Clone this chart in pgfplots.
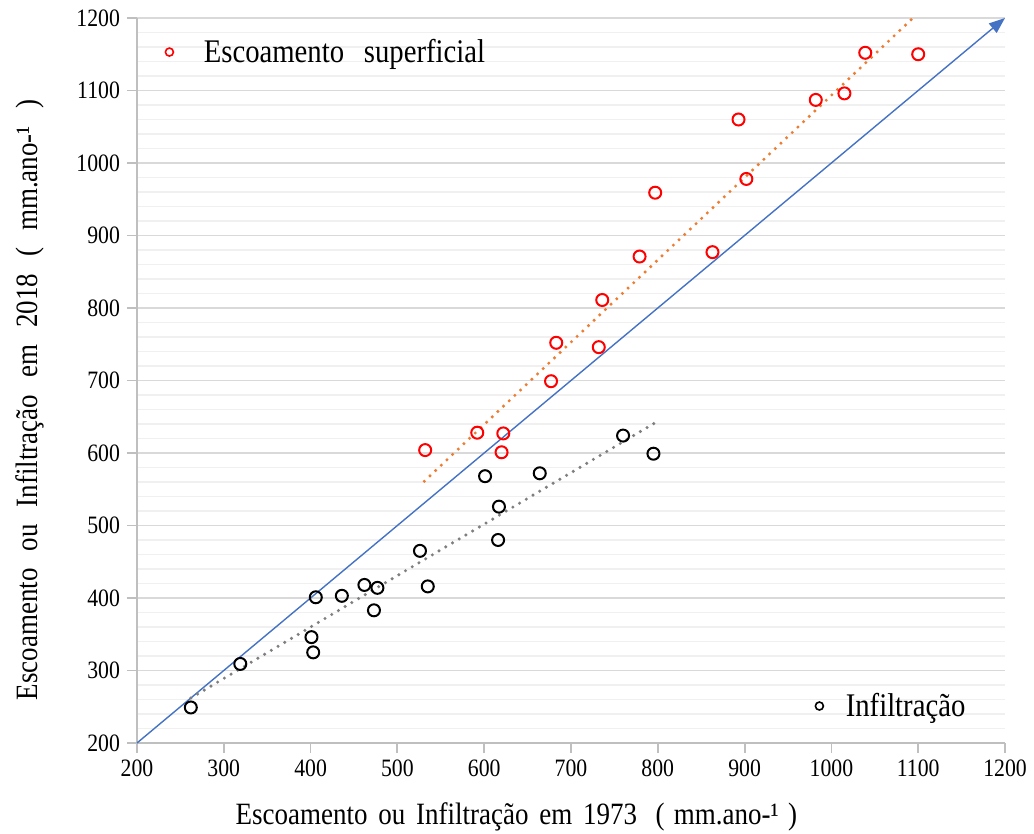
\documentclass[border=0pt]{standalone}
\usepackage{fontspec}
\setmainfont{Liberation Serif}[FakeStretch=0.87]
\usepackage{pgfplots}
\pgfplotsset{compat=1.18}
\usetikzlibrary{arrows.meta}
\definecolor{cGrid}{HTML}{D9D9D9}
\definecolor{cMinor}{HTML}{F0F0F0}
\definecolor{cAxis}{HTML}{BFBFBF}
\definecolor{cOne}{HTML}{4472C4}
\definecolor{cTrendR}{HTML}{ED7D31}
\definecolor{cTrendI}{HTML}{7F7F7F}

\newcommand{\ws}{\hspace{0.55em}}
\pgfplotsset{
  dotmark/.style={only marks, mark=o, mark size=3pt, mark options={line width=1pt}},
  legmark/.style={
    legend image code/.code={\draw[##1, mark size=2pt, line width=0.8pt] plot coordinates {(0pt,0pt)}; \path (-2.5pt,0pt) (#1,0pt);},
    legend style={draw=none, fill=none, inner sep=0pt, outer sep=0pt,
      nodes={inner sep=0pt}, font=\fontsize{16.5}{18}\selectfont},
  },
}

\begin{document}
\begin{tikzpicture}
\begin{axis}[
    name=main,
    width=434pt, height=362.5pt, scale only axis,
    xmin=200, xmax=1200, ymin=200, ymax=1200,
    xtick distance=100, ytick distance=100, minor y tick num=4,
    ymajorgrids, yminorgrids,
    major grid style={cGrid, line width=0.8pt},
    minor grid style={cMinor, line width=0.8pt},
    axis x line*=bottom, axis y line*=left,
    axis line style={cAxis, line width=0.9pt, -},
    tick style={cAxis, line width=0.9pt},
    tick align=outside, major tick length=5pt, minor tick length=0pt,
    ticklabel style={font=\fontsize{12.5}{14}\selectfont},
    /pgf/number format/assume math mode=true,
    /pgf/number format/1000 sep={},
    label style={font=\fontsize{15.5}{17}\selectfont, inner sep=0.5pt},
    xlabel={Escoamento\hspace{0.35em}ou\hspace{0.35em}Infiltração\hspace{0.35em}em\hspace{0.35em}1973\hspace{0.6em}(\hspace{0.3em}mm.ano-¹\hspace{0.3em})},
    ylabel={Escoamento\ws ou\ws Infiltração\ws em\ws 2018\ws (\ws mm.ano-¹\ws )},
    xlabel style={at={(axis description cs:0.437,-0.102)}, anchor=center},
    ylabel style={at={(axis description cs:-0.123,0.473)}, anchor=center},
    clip=false,
    legmark=17pt,
    legend style={at={(axis description cs:0.0369,0.953)}, anchor=west, xshift=-2.5pt},
]
\addplot[forget plot, cOne, line width=0.7pt, -{Triangle[length=8pt,width=6pt]}] coordinates {(200,200) (1200,1200)};
\addplot[forget plot, cTrendR, line width=1.7pt, dash pattern=on 0pt off 3.9pt, line cap=round] coordinates {(531,561) (1094,1200)};
\addplot[forget plot, cTrendI, line width=1.7pt, dash pattern=on 0pt off 3.9pt, line cap=round] coordinates {(262,262) (796,641)};

\addplot[forget plot, dotmark, black] coordinates {
 (262,249) (319,309) (406,401) (401,346) (403,325) (436,403) (462,418)
 (477,414) (473,383) (535,416) (526,465) (601,568) (617,526) (616,480)
 (664,572) (760,624) (795,599)
};
\addplot[forget plot, dotmark, red] coordinates {
 (532,604) (592,628) (622,627) (620,601) (677,699) (683,752) (732,746)
 (736,811) (779,871) (797,959) (863,877) (893,1060) (902,978) (982,1087)
 (1015,1096) (1039,1152) (1100,1150)
};
\addlegendimage{red, only marks, mark=o}
\addlegendentry{Escoamento\hspace{0.6em}superficial}
\end{axis}
\begin{axis}[
    width=434pt, height=362.5pt, scale only axis, hide axis,
    xmin=200, xmax=1200, ymin=200, ymax=1200,
    legmark=13pt,
    legend style={at={(axis description cs:0.7857,0.051)}, anchor=west, xshift=-2.5pt},
]
\addlegendimage{black, only marks, mark=o}
\addlegendentry{Infiltração}
\end{axis}
\path (main.south west) ++(-68.5pt,-45.5pt);
\path (main.north east) ++(14.5pt,9pt);
\end{tikzpicture}
\end{document}
